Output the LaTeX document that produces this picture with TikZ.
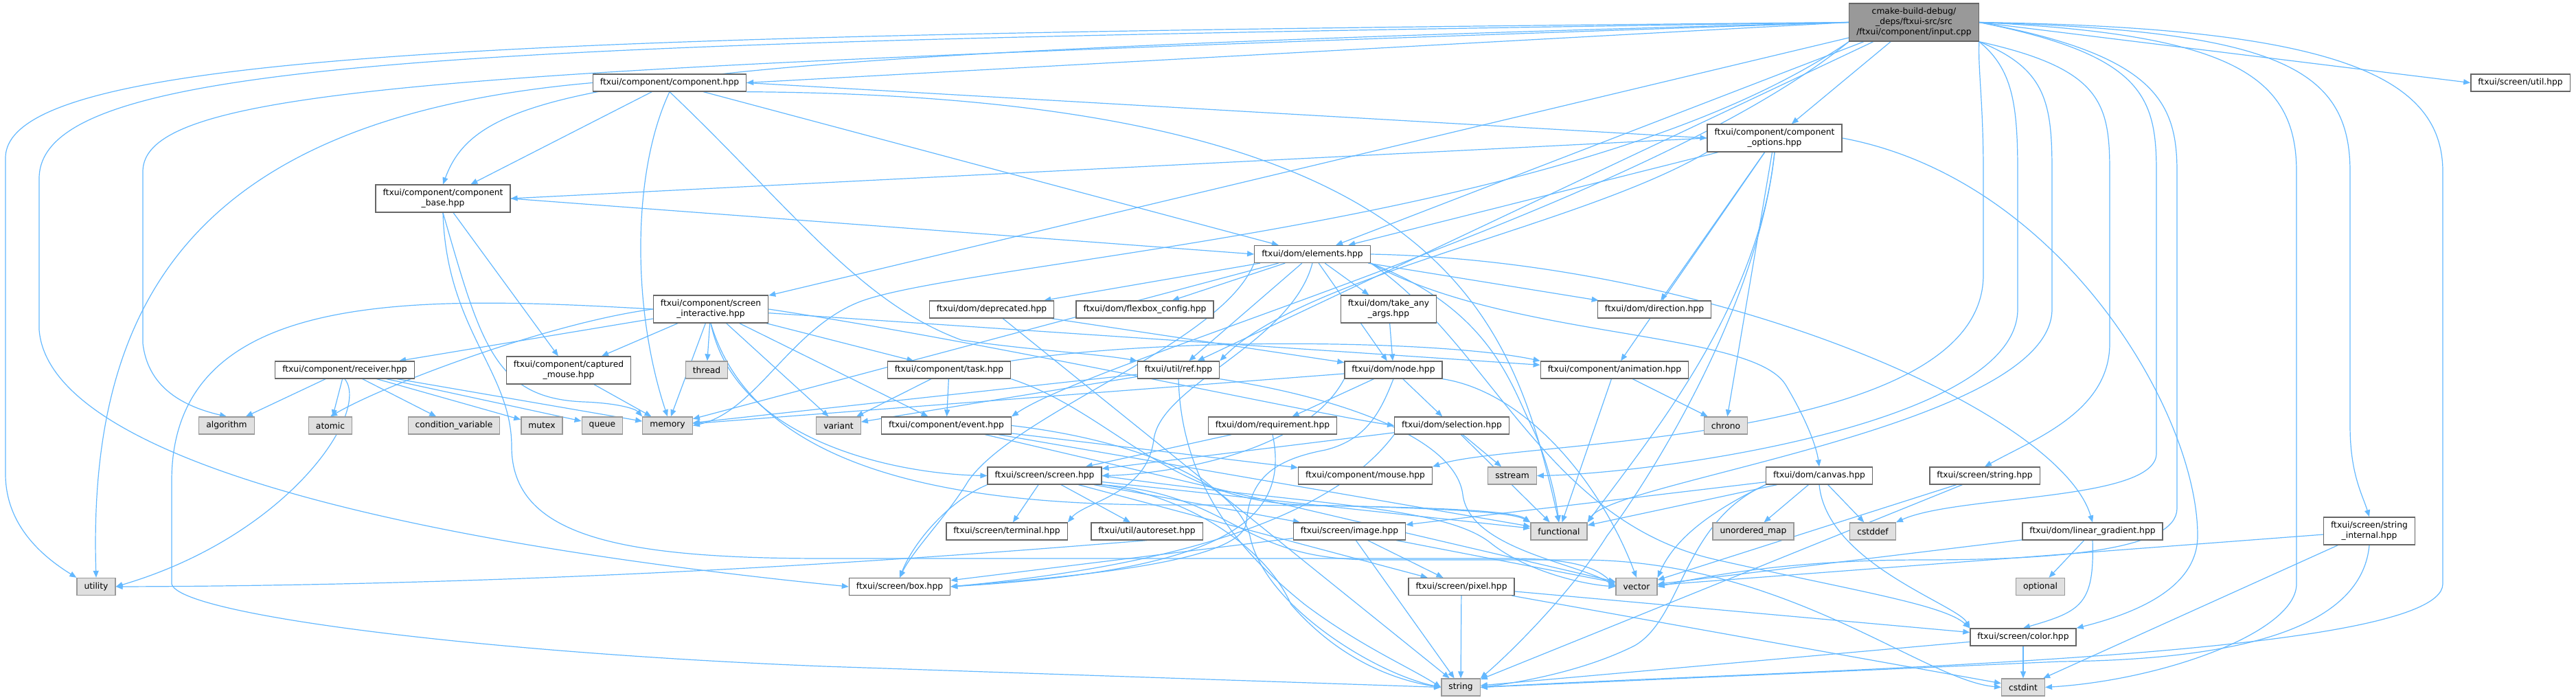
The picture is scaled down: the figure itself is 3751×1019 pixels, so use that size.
\documentclass[tikz,border=0pt]{standalone}
\usepackage{fontspec}
\setmainfont{DejaVu Sans}
\usepackage{tikz}
\usetikzlibrary{arrows.meta, backgrounds}
\definecolor{edgeblue}{HTML}{63B8FF}
\definecolor{bordergray}{HTML}{666666}
\definecolor{sysborder}{HTML}{999999}
\definecolor{sysfill}{HTML}{E0E0E0}
\definecolor{srcfill}{HTML}{999999}
\tikzset{
  hdr/.style={rectangle, draw=bordergray, fill=white, line width=1.3pt,
              inner xsep=10.5pt, inner ysep=0pt, minimum height=25pt,
              align=center, font=\fontsize{12.3}{15}\selectfont},
  twoline/.style={minimum height=40pt},
  syshdr/.style={hdr, draw=sysborder, fill=sysfill},
  srcfile/.style={hdr, draw=bordergray, fill=srcfill, minimum height=55pt},
  incl/.style={-{Triangle[length=10pt,width=8pt]}, line width=1.2pt, draw=edgeblue},
}

\begin{document}
\begin{tikzpicture}[x=1pt, y=-1pt]
  \useasboundingbox (0,0) rectangle (3751,1019);

  % Source file and project headers
  \node[srcfile] (input) at (2787,32.5)
    {cmake-build-debug/\\\_deps/ftxui-src/src\\/ftxui/component/input.cpp};
  \node[hdr] (util) at (3670,120.5) {ftxui/screen/util.hpp};
  \node[hdr] (comp) at (975,120.5) {ftxui/component/component.hpp};
  \node[hdr, twoline] (opts) at (2584,201) {ftxui/component/component\\\_options.hpp};
  \node[hdr, twoline] (cbase) at (645,289) {ftxui/component/component\\\_base.hpp};
  \node[hdr] (elements) at (1911,370) {ftxui/dom/elements.hpp};
  \node[hdr, twoline] (screenint) at (1035,450) {ftxui/component/screen\\\_interactive.hpp};
  \node[hdr] (deprecated) at (1444,450.5) {ftxui/dom/deprecated.hpp};
  \node[hdr] (flexbox) at (1667,450.5) {ftxui/dom/flexbox\_config.hpp};
  \node[hdr, twoline] (takeany) at (2022,450) {ftxui/dom/take\_any\\\_args.hpp};
  \node[hdr] (direction) at (2409,450.5) {ftxui/dom/direction.hpp};
  \node[hdr] (receiver) at (502,538.5) {ftxui/component/receiver.hpp};
  \node[hdr, twoline] (captured) at (828,539) {ftxui/component/captured\\\_mouse.hpp};
  \node[hdr] (task) at (1382,538.5) {ftxui/component/task.hpp};
  \node[hdr] (ref) at (1716,538.5) {ftxui/util/ref.hpp};
  \node[hdr] (domnode) at (2029,538.5) {ftxui/dom/node.hpp};
  \node[hdr] (animation) at (2351,538.5) {ftxui/component/animation.hpp};
  \node[hdr] (event) at (1378,619.5) {ftxui/component/event.hpp};
  \node[hdr] (requirement) at (1853,619.5) {ftxui/dom/requirement.hpp};
  \node[hdr] (selection) at (2114,619.5) {ftxui/dom/selection.hpp};
  \node[hdr] (screen) at (1521,692.5) {ftxui/screen/screen.hpp};
  \node[hdr] (mouse) at (1988,692.5) {ftxui/component/mouse.hpp};
  \node[hdr] (canvas) at (2649,692.5) {ftxui/dom/canvas.hpp};
  \node[hdr] (strhpp) at (2890,692.5) {ftxui/screen/string.hpp};
  \node[hdr] (terminal) at (1466,773.5) {ftxui/screen/terminal.hpp};
  \node[hdr] (autoreset) at (1670,773.5) {ftxui/util/autoreset.hpp};
  \node[hdr] (image) at (1965,773.5) {ftxui/screen/image.hpp};
  \node[hdr] (lingrad) at (3047,773.5) {ftxui/dom/linear\_gradient.hpp};
  \node[hdr, twoline] (strint) at (3450,773) {ftxui/screen/string\\\_internal.hpp};
  \node[hdr] (box) at (1310,854) {ftxui/screen/box.hpp};
  \node[hdr] (pixel) at (2128,854) {ftxui/screen/pixel.hpp};
  \node[hdr] (scolor) at (2946,927.5) {ftxui/screen/color.hpp};

  % Standard headers
  \node[syshdr] (thread) at (1029,538.5) {thread};
  \node[syshdr] (algorithm) at (330,619.5) {algorithm};
  \node[syshdr] (atomic) at (481,619.5) {atomic};
  \node[syshdr] (condvar) at (661,619.5) {condition\_variable};
  \node[syshdr] (mutex) at (789,619.5) {mutex};
  \node[syshdr] (queue) at (877,619.5) {queue};
  \node[syshdr] (memory) at (972,619.5) {memory};
  \node[syshdr] (variant) at (1221,619.5) {variant};
  \node[syshdr] (chrono) at (2513,619.5) {chrono};
  \node[syshdr] (sstream) at (2202,692.5) {sstream};
  \node[syshdr] (functional) at (2270,773.5) {functional};
  \node[syshdr] (unordmap) at (2553,773.5) {unordered\_map};
  \node[syshdr] (cstddef) at (2727,773.5) {cstddef};
  \node[syshdr] (utility) at (140,854) {utility};
  \node[syshdr] (vector) at (2383,854) {vector};
  \node[syshdr] (optional) at (2971,854) {optional};
  \node[syshdr] (string) at (2127,1000.5) {string};
  \node[syshdr] (cstdint) at (2946,1000.5) {cstdint};

  \begin{scope}[on background layer]
    % input.cpp
    \draw[incl] (input.east) -- (util.west);
    \draw[incl] (input.west) -- (comp.east);
    \draw[incl] (input.west) .. controls (900,80) and (700,120) .. (cbase.north);
    \draw[incl] (input) -- (opts);
    \draw[incl] (input) -- (elements);
    \draw[incl] (input) -- (screenint);
    \draw[incl] (input.south west) .. controls (2400,300) and (1600,520) .. (event.north east);
    \draw[incl] (input) -- (ref);
    \draw[incl] (input.south west) .. controls (2300,330) and (1400,380) .. (1250,440)
      .. controls (1150,480) and (1100,600) .. (memory.east);
    \draw[incl] (input.west) .. controls (800,50) and (8,70) .. (8,230)
      -- (8,690) .. controls (8,770) and (70,815) .. (utility.north west);
    \draw[incl] (input.west) .. controls (700,62) and (57,80) .. (57,260)
      -- (57,480) .. controls (70,650) and (500,780) .. (box.west);
    \draw[incl] (input.west) .. controls (700,100) and (208,120) .. (208,250)
      -- (208,500) .. controls (215,560) and (260,590) .. (algorithm.north);
    \draw[incl] (input.south east) .. controls (2880,100) and (2888,150) .. (2888,250)
      -- (2888,400) .. controls (2888,650) and (2200,640) .. (mouse.north east);
    \draw[incl] (input.south east) .. controls (2930,100) and (2938,150) .. (2938,250)
      -- (2938,450) .. controls (2938,620) and (2400,690) .. (sstream.east);
    \draw[incl] (input.south east) .. controls (2980,100) and (2988,150) .. (2988,250)
      -- (2988,450) .. controls (2988,620) and (2350,700) .. (functional.north east);
    \draw[incl] (input.south east) .. controls (3060,100) and (3072,150) .. (3072,250)
      -- (3072,500) .. controls (3072,600) and (2960,640) .. (strhpp.north);
    \draw[incl] (input.east) .. controls (3140,80) and (3170,150) .. (3170,250)
      -- (3170,740) .. controls (3170,800) and (3000,815) .. (2800,815)
      .. controls (2600,815) and (2480,840) .. (vector.east);
    \draw[incl] (input.east) .. controls (3120,80) and (3140,140) .. (3140,250)
      -- (3140,660) .. controls (3140,730) and (2850,720) .. (cstddef.north east);
    \draw[incl] (input.east) .. controls (3250,50) and (3344,110) .. (3344,250)
      -- (3344,850) .. controls (3344,920) and (3150,990) .. (cstdint.east);
    \draw[incl] (input.east) .. controls (3320,45) and (3422,100) .. (3422,250)
      -- (3422,620) .. controls (3422,690) and (3440,720) .. (strint.north);
    \draw[incl] (input.east) .. controls (3400,40) and (3557,110) .. (3557,250)
      -- (3557,850) .. controls (3557,960) and (2600,975) .. (string.east);

    % component.hpp
    \draw[incl] (comp) -- (cbase);
    \draw[incl] (comp.east) -- (opts.west);
    \draw[incl] (comp) -- (elements);
    \draw[incl] (comp.south) .. controls (1150,300) and (1250,440) .. (1400,495)
      .. controls (1500,510) and (1600,515) .. (ref.north west);
    \draw[incl] (comp.south east) .. controls (2100,140) and (2200,450) .. (functional.north);
    \draw[incl] (comp.south) .. controls (920,250) and (920,450) .. (memory.north);
    \draw[incl] (comp.west) .. controls (300,170) and (127,420) .. (utility.north);

    % component_base.hpp and options
    \draw[incl] (cbase.east) -- (elements.west);
    \draw[incl] (cbase) -- (captured);
    \draw[incl] (cbase.south) .. controls (700,500) and (720,580) .. (850,585)
      .. controls (900,587) and (925,595) .. (memory.north west);
    \draw[incl] (cbase.south) .. controls (650,480) and (745,540) .. (745,650)
      .. controls (745,780) and (900,813) .. (1200,813) -- (2200,813)
      .. controls (2300,813) and (2330,830) .. (vector.west);
    \draw[incl] (captured) -- (memory);
    \draw[incl] (opts.west) -- (cbase.east);
    \draw[incl] (opts) -- (elements);
    \draw[incl] (opts) -- (direction);
    \draw[incl] (opts) -- (animation);
    \draw[incl] (opts) -- (chrono);
    \draw[incl] (opts.south) .. controls (2560,450) and (2400,640) .. (functional.north east);
    \draw[incl] (opts.south) .. controls (2560,450) and (2400,700) .. (2340,780)
      .. controls (2290,860) and (2200,950) .. (string.north east);
    \draw[incl] (opts.south west) .. controls (2300,330) and (1900,400) .. (ref.north east);
    \draw[incl] (opts.east) .. controls (3000,260) and (3200,600) .. (3200,780)
      .. controls (3200,860) and (3100,895) .. (scolor.north east);

    % elements.hpp
    \draw[incl] (elements) -- (deprecated);
    \draw[incl] (elements) -- (flexbox);
    \draw[incl] (elements) -- (takeany);
    \draw[incl] (elements) -- (direction);
    \draw[incl] (elements.south east) .. controls (2200,495) and (2550,480) .. (2600,560)
      .. controls (2630,610) and (2645,650) .. (canvas.north);
    \draw[incl] (elements.east) .. controls (2500,380) and (3000,600) .. (lingrad.north);
    \draw[incl] (elements) -- (domnode);
    \draw[incl] (elements.south west) .. controls (1780,500) and (1480,600) .. (1410,700)
      .. controls (1380,750) and (1330,800) .. (box.north);
    \draw[incl] (elements.south east) .. controls (2170,500) and (2250,760) .. (2500,815)
      .. controls (2700,860) and (2830,880) .. (scolor.north west);
    \draw[incl] (elements.south) .. controls (1880,500) and (1690,560) .. (1680,640)
      .. controls (1670,720) and (1580,730) .. (terminal.north east);
    \draw[incl] (elements) -- (ref);
    \draw[incl] (elements.south east) .. controls (2170,450) and (2200,560) .. (2230,620)
      .. controls (2250,660) and (2265,720) .. (functional.north);
    \draw[incl] (elements) -- (memory);
    \draw[incl] (deprecated) -- (domnode);
    \draw[incl] (deprecated) -- (string);
    \draw[incl] (takeany) -- (domnode);

    % screen_interactive.hpp
    \draw[incl] (screenint) -- (receiver);
    \draw[incl] (screenint) -- (captured);
    \draw[incl] (screenint) -- (thread);
    \draw[incl] (screenint) -- (task);
    \draw[incl] (screenint) -- (memory);
    \draw[incl] (screenint.west) .. controls (800,470) and (560,560) .. (atomic.north);
    \draw[incl] (screenint) -- (variant);
    \draw[incl] (screenint) -- (animation);
    \draw[incl] (screenint) -- (event);
    \draw[incl] (screenint.south) .. controls (1070,640) and (1300,690) .. (screen.west);
    \draw[incl] (screenint.east) .. controls (1450,500) and (1900,600) .. (selection.west);
    \draw[incl] (screenint.south) .. controls (1100,690) and (1400,735) .. (1700,735)
      .. controls (2000,735) and (2200,740) .. (functional.north west);
    \draw[incl] (screenint.west) .. controls (600,430) and (250,420) .. (250,700)
      -- (250,850) .. controls (260,895) and (700,950) .. (1200,970) -- (string.west);

    % receiver, task, ref
    \draw[incl] (receiver) -- (algorithm);
    \draw[incl] (receiver) -- (atomic);
    \draw[incl] (receiver) -- (condvar);
    \draw[incl] (receiver) -- (mutex);
    \draw[incl] (receiver) -- (queue);
    \draw[incl] (receiver) -- (memory);
    \draw[incl] (receiver.south) .. controls (540,600) and (420,780) .. (utility.east);
    \draw[incl] (task) -- (variant);
    \draw[incl] (task) -- (event);
    \draw[incl] (task.south east) .. controls (1620,600) and (1700,730) .. (1900,735)
      .. controls (2100,740) and (2200,745) .. (functional.north west);
    \draw[incl] (task.north east) .. controls (1700,490) and (2100,495) .. (animation.north west);
    \draw[incl] (ref) -- (memory);
    \draw[incl] (ref) -- (variant);
    \draw[incl] (ref.south) .. controls (1720,700) and (1800,800) .. (1900,880)
      .. controls (1980,940) and (2050,970) .. (string.west);
    \draw[incl] (ref.south east) .. controls (1960,580) and (2120,640) .. (2130,720)
      .. controls (2140,800) and (2300,820) .. (vector.west);

    % dom
    \draw[incl] (domnode) -- (requirement);
    \draw[incl] (domnode) -- (selection);
    \draw[incl] (domnode) -- (memory);
    \draw[incl] (domnode.south east) .. controls (2220,570) and (2330,700) .. (vector.north);
    \draw[incl] (domnode.south) .. controls (2010,600) and (1990,640) .. (1930,655)
      .. controls (1850,670) and (1820,700) .. (1815,760)
      .. controls (1810,820) and (1550,840) .. (box.east);
    \draw[incl] (domnode.south west) .. controls (1900,660) and (1700,690) .. (screen.east);
    \draw[incl] (animation) -- (chrono);
    \draw[incl] (animation) -- (functional);
    \draw[incl] (event) -- (mouse);
    \draw[incl] (event) -- (functional);
    \draw[incl] (event.east) .. controls (1650,640) and (1800,700) .. (1820,780)
      .. controls (1840,880) and (2000,980) .. (string.west);
    \draw[incl] (event) -- (vector);
    \draw[incl] (selection) -- (functional);
    \draw[incl] (selection) -- (sstream);
    \draw[incl] (selection.south west) .. controls (1950,740) and (1750,820) .. (box.east);
    \draw[incl] (selection) -- (screen);
    \draw[incl] (requirement) -- (screen);
    \draw[incl] (requirement.south) .. controls (1880,760) and (1780,830) .. (box.east);
    \draw[incl] (canvas) -- (unordmap);
    \draw[incl] (canvas) -- (cstddef);
    \draw[incl] (canvas) -- (functional);
    \draw[incl] (canvas.south west) .. controls (2450,760) and (2450,900) .. (2380,940)
      .. controls (2300,980) and (2200,995) .. (string.east);
    \draw[incl] (canvas.south west) .. controls (2500,740) and (2440,780) .. (vector.north east);
    \draw[incl] (canvas.south) .. controls (2660,820) and (2850,880) .. (scolor.north west);
    \draw[incl] (canvas) -- (image);
    \draw[incl] (lingrad) -- (optional);
    \draw[incl] (lingrad) -- (vector);
    \draw[incl] (lingrad.south) .. controls (3050,880) and (3030,890) .. (scolor.north);

    % screen
    \draw[incl] (screen) -- (terminal);
    \draw[incl] (screen) -- (autoreset);
    \draw[incl] (screen) -- (image);
    \draw[incl] (screen) -- (pixel);
    \draw[incl] (screen) -- (functional);
    \draw[incl] (screen.south east) .. controls (1720,720) and (1840,790) .. (1880,880)
      .. controls (1950,960) and (2030,990) .. (string.west);
    \draw[incl] (screen.east) .. controls (1900,735) and (2100,735) .. (2170,790)
      .. controls (2220,830) and (2300,850) .. (vector.west);
    \draw[incl] (screen.south east) .. controls (1800,720) and (1800,815) .. (2000,815)
      -- (2300,815) .. controls (2600,815) and (2800,990) .. (cstdint.west);
    \draw[incl] (screen.south west) .. controls (1380,730) and (1330,790) .. (box.north);
    \draw[incl] (image) -- (string);
    \draw[incl] (image) -- (vector);
    \draw[incl] (image) -- (box);
    \draw[incl] (image) -- (pixel);
    \draw[incl] (pixel) -- (string);
    \draw[incl] (pixel) -- (cstdint);
    \draw[incl] (pixel) -- (scolor);
    \draw[incl] (scolor) -- (string);
    \draw[incl] (scolor) -- (cstdint);
    \draw[incl] (strhpp) -- (string);
    \draw[incl] (strhpp) -- (vector);
    \draw[incl] (strint.south) .. controls (3440,900) and (3300,960) .. (3000,963)
      -- (string.east);
    \draw[incl] (strint) -- (cstdint);
    \draw[incl] (strint) -- (vector);
    \draw[incl] (autoreset.south) .. controls (1500,800) and (900,852) .. (utility.east);
  \end{scope}
\end{tikzpicture}
\end{document}
